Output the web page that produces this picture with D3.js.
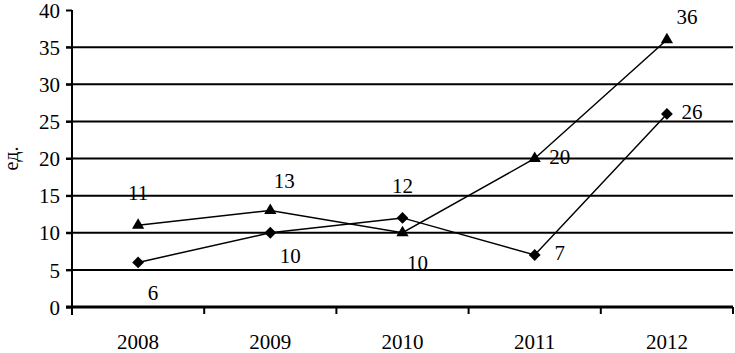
<!DOCTYPE html>
<html>
<head>
<meta charset="utf-8">
<script src="https://cdn.jsdelivr.net/npm/d3@7"></script>
<style>
  body { margin: 0; background: #fff; }
</style>
</head>
<body>
<div id="chart"></div>
<script>
// Data
const years = ['2008', '2009', '2010', '2011', '2012']
const triangleValues = [11, 13, 10, 20, 36]
const diamondValues = [6, 10, 12, 7, 26]
const yTicks = [0, 5, 10, 15, 20, 25, 30, 35, 40]
const yLabel = 'ед.'
// where each value label sits relative to its marker
const trianglePlace = ['above', 'aboveRight', 'below', 'right', 'upRight']
const diamondPlace = ['below', 'belowRight', 'above', 'right', 'right']

const FONT = '"Liberation Serif", "Times New Roman", serif'

function draw() {
  // Dimensions
  const dimensions = {
    width: 735,
    height: 353,
    left: 72,
    right: 733,
    top: 10,
    bottom: 307
  }

  const svg = d3.select('#chart')
    .append('svg')
    .attr('width', dimensions.width)
    .attr('height', dimensions.height)
    .attr('font-family', FONT)

  // Scales
  const xScale = d3.scaleBand()
    .domain(years)
    .range([dimensions.left, dimensions.right])

  const yScale = d3.scaleLinear()
    .domain([0, 40])
    .range([dimensions.bottom, dimensions.top])

  // grid lines (the one at 0 is the x axis, drawn thicker)
  svg.append('g')
    .selectAll('line')
    .data(yTicks.filter(d => d > 0 && d < 40))
    .join('line')
    .attr('x1', dimensions.left - 6)
    .attr('x2', dimensions.right)
    .attr('y1', d => yScale(d))
    .attr('y2', d => yScale(d))
    .attr('stroke', '#000')
    .attr('stroke-width', 2)

  // Y axis
  const yAxis = d3.axisLeft(yScale)
    .tickValues(yTicks)
    .tickSize(6)
    .tickPadding(6)

  const yAxisGroup = svg.append('g')
    .attr('transform', `translate(${dimensions.left},0)`)
    .call(yAxis)
    .attr('font-family', FONT)
  yAxisGroup.select('.domain').remove()
  yAxisGroup.append('line')
    .attr('y1', dimensions.top)
    .attr('y2', dimensions.bottom + 8)
    .attr('stroke', '#000')
    .attr('stroke-width', 2)
  yAxisGroup.selectAll('.tick line').attr('stroke-width', 2)
  yAxisGroup.selectAll('.tick text')
    .style('font-size', '21px')
    .attr('fill', '#000')
    .attr('dy', '0.34em')

  // X axis
  const xAxisGroup = svg.append('g')
    .attr('transform', `translate(0,${dimensions.bottom})`)
  xAxisGroup.append('line')
    .attr('x1', dimensions.left - 6)
    .attr('x2', dimensions.right)
    .attr('stroke', '#000')
    .attr('stroke-width', 3)
  // ticks between categories
  xAxisGroup.selectAll('.xtick')
    .data(years)
    .join('line')
    .attr('class', 'xtick')
    .attr('x1', d => xScale(d) + xScale.bandwidth())
    .attr('x2', d => xScale(d) + xScale.bandwidth())
    .attr('y1', 0)
    .attr('y2', 7)
    .attr('stroke', '#000')
    .attr('stroke-width', 2)
  xAxisGroup.selectAll('.xlabel')
    .data(years)
    .join('text')
    .attr('class', 'xlabel')
    .attr('x', d => xScale(d) + xScale.bandwidth() / 2)
    .attr('y', 42)
    .attr('text-anchor', 'middle')
    .style('font-size', '21px')
    .text(d => d)

  // Y label
  svg.append('text')
    .attr('transform', `translate(18,${(dimensions.top + dimensions.bottom) / 2}) rotate(-90)`)
    .attr('text-anchor', 'middle')
    .style('font-size', '20px')
    .text(yLabel)

  const xCenter = d => xScale(d) + xScale.bandwidth() / 2

  const line = d3.line()
    .x((d, i) => xCenter(years[i]))
    .y(d => yScale(d))

  const offsets = {
    above: [0, -32],
    aboveRight: [14, -30],
    upRight: [20, -23],
    below: [15, 30],
    belowRight: [20, 23],
    right: [25, -2]
  }

  function series(values, symbolType, symbolSize, rotate, place) {
    const g = svg.append('g')
    g.append('path')
      .datum(values)
      .attr('d', line)
      .attr('fill', 'none')
      .attr('stroke', '#000')
      .attr('stroke-width', 1.5)

    g.selectAll('path.marker')
      .data(values)
      .join('path')
      .attr('class', 'marker')
      .attr('d', d3.symbol().type(symbolType).size(symbolSize))
      .attr('transform', (d, i) => `translate(${xCenter(years[i])},${yScale(d)}) rotate(${rotate})`)
      .attr('fill', '#000')

    g.selectAll('text')
      .data(values)
      .join('text')
      .attr('x', (d, i) => xCenter(years[i]) + offsets[place[i]][0])
      .attr('y', (d, i) => yScale(d) + offsets[place[i]][1])
      .attr('dy', '0.34em')
      .attr('text-anchor', 'middle')
      .style('font-size', '21px')
      .text(d => d)
  }

  series(triangleValues, d3.symbolTriangle, 65, 0, trianglePlace)
  series(diamondValues, d3.symbolSquare, 70, 45, diamondPlace)
}

draw()
</script>
</body>
</html>
